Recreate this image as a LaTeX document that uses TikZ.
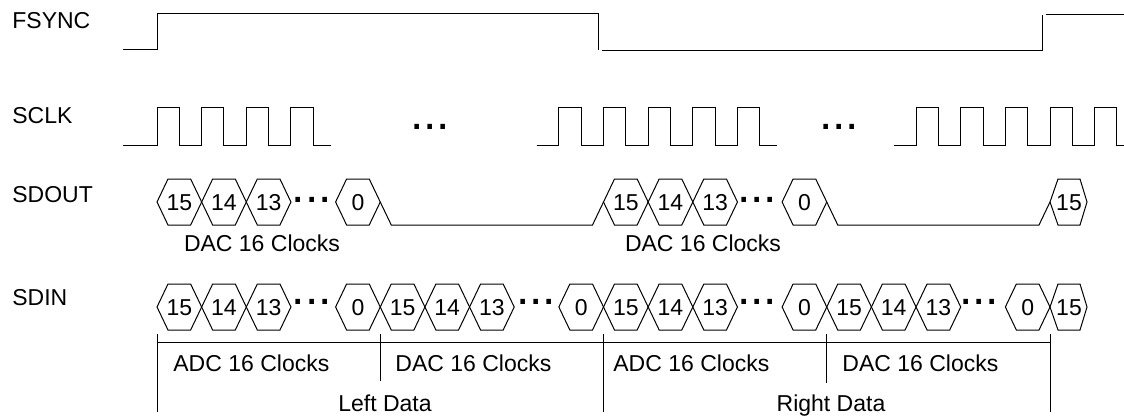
\documentclass[tikz,border=0pt]{standalone}
\usepackage{fontspec}
\setmainfont{Liberation Sans}
\newcommand{\tper}{44.65}
\newcommand{\xo}{157}
\newcommand{\hexs}{11}
\newcommand{\hexh}{23}
\newcommand{\outy}{202}
\newcommand{\iny}{307}
% one data bit: row name, centre y, clock index, bit number
\newcommand{\bitcell}[4]{%
  \draw[wave] ({\xo+\tper*#3},#2) -- ++(\hexs,-\hexh) -- ({\xo+\tper*(#3+1)-\hexs},#2-\hexh) -- ({\xo+\tper*(#3+1)},#2) -- ++(-\hexs,\hexh) -- ({\xo+\tper*#3+\hexs},#2+\hexh) -- cycle;
  \node[bit] (#1#3) at ({\xo+\tper*(#3+0.5)},#2) {#4};}
\tikzset{
  wave/.style={line width=0.5pt, black},
  sig/.style={inner sep=0pt, text height=8.2pt, text depth=0pt},
  bit/.style={sig},
  more/.style={inner sep=0pt, font=\fontsize{24}{24}\selectfont}
}

\begin{document}
\begin{tikzpicture}[x=0.5pt, y=-0.5pt, font=\fontsize{11.5}{13.8}\selectfont]
    \useasboundingbox (0,0) rectangle (1124,417);

    % signal names
    \node[sig, anchor=west] (fsync) at (12,20) {FSYNC};
    \node[sig, anchor=west] (sclk) at (12,115) {SCLK};
    \node[sig, anchor=west] (sdout) at (12,194) {SDOUT};
    \node[sig, anchor=west] (sdin) at (12,297) {SDIN};

    % FSYNC
    \draw[wave] (123,50) -| (157,14) -- (598,14) -- (598,50);
    \draw[wave] (602,51) -- (1042,51) -- (1042,15);
    \draw[wave] (1046,15) -- (1124,15);

    % SCLK
    \foreach \k in {0,1,2,3,9,10,11,12,13,17,18,19,20,21} {
        \draw[wave] ({\xo+\tper*(\k-0.5)},146) -- ({\xo+\tper*\k},146) |- ({\xo+\tper*(\k+0.5)},108) -- ({\xo+\tper*(\k+0.5)},146);
    }
    \draw[wave] (123,146) -- ({\xo-\tper/2},146);
    \draw[wave] ({\xo+\tper*3.5},146) -- (331,146);
    \draw[wave] ({\xo+\tper*13.5},146) -- (777,146);
    \draw[wave] ({\xo+\tper*21.5},146) -- (1124,146);
    \node[more] (sclkdots1) at (430,127) {...};
    \node[more] (sclkdots2) at (839,127) {...};

    % SDOUT
    \foreach \k/\b in {0/15,1/14,2/13,4/0,10/15,11/14,12/13,14/0} {
        \bitcell{out}{\outy}{\k}{\b}
    }
    \draw[wave] ({\xo+\tper*5},\outy) -- ++(\hexs,\hexh) -- ({\xo+\tper*10-\hexs},\outy+\hexh) -- ++(\hexs,-\hexh);
    \draw[wave] ({\xo+\tper*15},\outy) -- ++(\hexs,\hexh) -- ({\xo+\tper*20-\hexs},\outy+\hexh) -- ++(\hexs,-\hexh);
    \draw[wave] (1050,\outy) -- (1058,\outy-\hexh) -- (1080,\outy-\hexh) -- (1087,\outy) -- (1080,\outy+\hexh) -- (1058,\outy+\hexh) -- cycle;
    \node[bit] (out20) at (1069,\outy) {15};
    \node[more] (outdots1) at (312,200) {...};
    \node[more] (outdots2) at (757,200) {...};
    \node[sig] (outdac1) at (262,243) {DAC 16 Clocks};
    \node[sig] (outdac2) at (703,243) {DAC 16 Clocks};

    % SDIN
    \foreach \k/\b in {0/15,1/14,2/13,4/0,5/15,6/14,7/13,9/0,10/15,11/14,12/13,14/0,15/15,16/14,17/13,19/0} {
        \bitcell{in}{\iny}{\k}{\b}
    }
    \draw[wave] (1050,\iny) -- (1058,\iny-\hexh) -- (1080,\iny-\hexh) -- (1087,\iny) -- (1080,\iny+\hexh) -- (1058,\iny+\hexh) -- cycle;
    \node[bit] (in20) at (1069,\iny) {15};
    \node[more] (indots1) at (312,302) {...};
    \node[more] (indots2) at (536,302) {...};
    \node[more] (indots3) at (757,302) {...};
    \node[more] (indots4) at (979,302) {...};

    % brackets
    \foreach \k/\e in {0/412,5/381,10/412,15/383,20/412} {
        \draw[wave] ({\xo+\tper*\k},334) -- ({\xo+\tper*\k},\e);
    }
    \draw[wave] (\xo,342) -- ({\xo+\tper*20},342);
    \node[sig, anchor=west] (adcl) at (173,363) {ADC 16 Clocks};
    \node[sig, anchor=west] (dacl) at (395,363) {DAC 16 Clocks};
    \node[sig, anchor=west] (adcr) at (613,363) {ADC 16 Clocks};
    \node[sig, anchor=west] (dacr) at (842,363) {DAC 16 Clocks};
    \node[sig] (left) at (385,403) {Left Data};
    \node[sig] (right) at (831,403) {Right Data};
\end{tikzpicture}
\end{document}
